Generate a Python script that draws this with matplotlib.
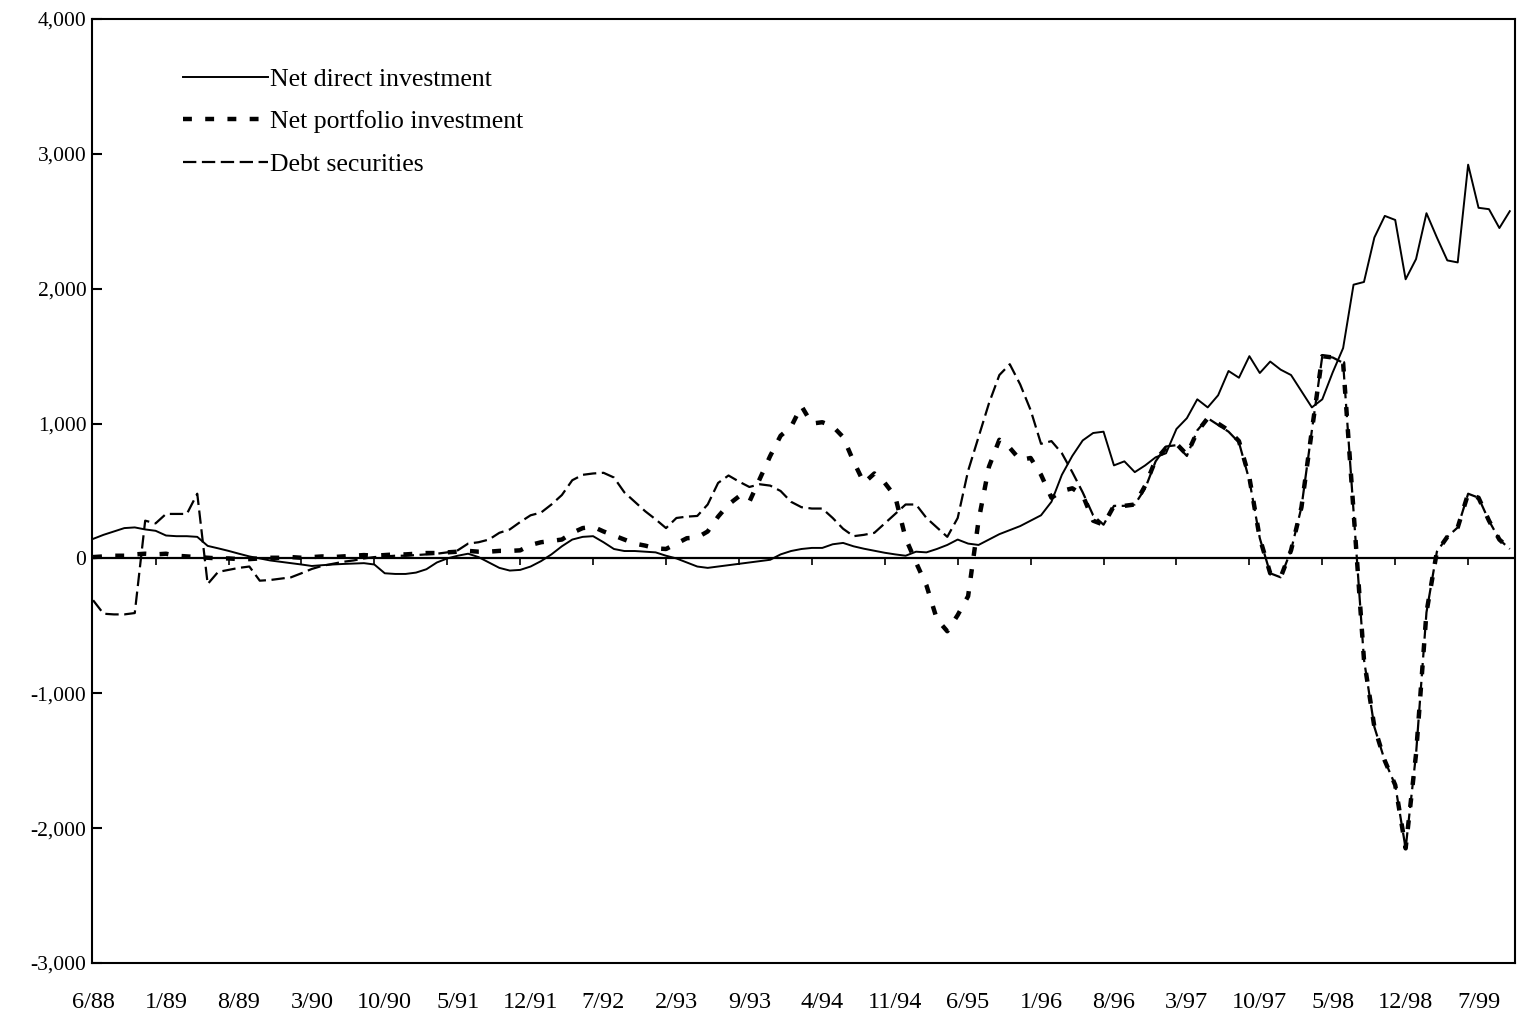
import numpy as np
import matplotlib
matplotlib.use("Agg")
import matplotlib.pyplot as plt
from matplotlib.ticker import FuncFormatter

plt.rcParams['font.family'] = ['Liberation Serif', 'DejaVu Serif']

# Monthly data, 6/88 .. 10/99
tick_labels = ["6/88", "1/89", "8/89", "3/90", "10/90", "5/91", "12/91", "7/92",
               "2/93", "9/93", "4/94", "11/94", "6/95", "1/96", "8/96", "3/97",
               "10/97", "5/98", "12/98", "7/99"]

direct = [
    145, 175, 200, 225, 230, 215, 205, 170, 165, 165,
    160, 93, 75, 56, 35, 15, 0, -15, -25, -35,
    -45, -56, -50, -45, -41, -38, -35, -45, -110, -115,
    -115, -105, -80, -30, 0, 20, 35, 10, -30, -70,
    -90, -85, -60, -20, 30, 90, 140, 160, 165, 120,
    70, 55, 55, 50, 45, 20, 0, -30, -60, -70,
    -60, -50, -40, -30, -20, -10, 30, 55, 70, 78,
    78, 105, 115, 90, 72, 57, 42, 30, 20, 50,
    45, 70, 100, 140, 110, 100, 140, 180, 210, 240,
    280, 320, 420, 620, 760, 875, 930, 940, 690, 720,
    640, 690, 750, 780, 960, 1040, 1180, 1120, 1210, 1390,
    1340, 1500, 1375, 1460, 1400, 1360, 1240, 1120, 1180, 1380,
    1560, 2030, 2050, 2380, 2540, 2510, 2070, 2220, 2560, 2380,
    2210, 2195, 2920, 2600, 2590, 2450, 2575]

portfolio = [
    10, 15, 20, 20, 30, 35, 30, 35, 20, 15,
    10, 5, 0, 0, -5, -5, 0, 5, 5, 10,
    5, 10, 15, 10, 15, 20, 25, 20, 25, 30,
    30, 35, 40, 40, 45, 50, 56, 50, 50, 56,
    56, 60, 100, 120, 130, 140, 190, 225, 235, 200,
    170, 140, 110, 95, 75, 70, 110, 150, 155, 200,
    310, 400, 460, 420, 590, 760, 910, 975, 1130, 1000,
    1010, 980, 900, 720, 560, 630, 560, 460, 150, -30,
    -200, -450, -540, -420, -280, 280, 680, 880, 820, 730,
    745, 620, 450, 500, 520, 470, 280, 250, 390, 390,
    400, 540, 730, 820, 850, 770, 940, 1040, 1000, 950,
    870, 600, 150, -110, -140, 60, 380, 950, 1500, 1490,
    1450, 350, -750, -1250, -1500, -1680, -2150, -1450, -400, 50,
    160, 230, 480, 450, 280, 140, 70]

debt = [
    -310, -410, -415, -415, -405, 280, 260, 330, 330, 330,
    480, -190, -100, -85, -70, -60, -165, -160, -150, -140,
    -110, -78, -55, -40, -25, -15, 0, 10, 15, 20,
    20, 25, 30, 35, 45, 60, 110, 120, 140, 190,
    215, 270, 320, 340, 400, 470, 580, 620, 630, 635,
    600, 490, 420, 350, 290, 225, 300, 310, 315, 400,
    560, 615, 570, 530, 550, 540, 500, 420, 380, 370,
    370, 300, 220, 165, 175, 190, 260, 330, 400, 400,
    300, 230, 160, 300, 650, 900, 1150, 1360, 1440, 1290,
    1100, 850, 870, 780, 640, 490, 320, 250, 390, 390,
    400, 520, 720, 830, 840, 760, 950, 1040, 990, 940,
    860, 580, 150, -110, -140, 60, 380, 950, 1500, 1490,
    1450, 350, -750, -1250, -1500, -1680, -2150, -1450, -400, 50,
    160, 230, 480, 450, 280, 140, 70]

x = np.arange(len(direct))

fig = plt.figure(figsize=(15.24, 10.17), dpi=100)
ax = fig.add_axes([0.0604, 0.0531, 0.9337, 0.9282])

ax.plot(x, direct, color='black', lw=1.4, label='Net direct investment')
ax.plot(x, portfolio, color='black', lw=3.2, linestyle=(0, (2.0, 3.0)),
        label='Net portfolio investment')
ax.plot(x, debt, color='black', lw=1.6, linestyle=(0, (6, 2.5)),
        label='Debt securities')
ax.axhline(0, color='black', lw=1.6)

ax.set_xlim(-0.1, 136.5)
ax.set_ylim(-3000, 4000)

ax.set_xticks(np.arange(0, len(direct), 7))
ax.set_xticklabels(tick_labels)
ax.tick_params(axis='x', length=0, pad=21, labelsize=17.5)
ax.set_yticks(np.arange(-3000, 4001, 1000))
ax.yaxis.set_major_formatter(FuncFormatter(lambda v, p: f"{int(v):,}"))
ax.tick_params(axis='y', direction='in', length=7, width=1.5, pad=4, labelsize=15.5)

for s in ax.spines.values():
    s.set_linewidth(1.5)

# small tick marks on the zero line
sec = ax.secondary_xaxis(3 / 7)
sec.set_xticks(np.arange(6, len(direct), 7))
sec.tick_params(axis='x', direction='out', length=5, width=1.2,
                labeltop=False, labelbottom=False)
sec.spines['top'].set_visible(False)
sec.spines['bottom'].set_visible(False)

ax.legend(loc='upper left', bbox_to_anchor=(0.064, 0.948), frameon=False,
          fontsize=18.5, handlelength=3.3, handletextpad=0.1, labelspacing=0.75,
          borderpad=0, borderaxespad=0)

fig.savefig("out.png", dpi=100)
